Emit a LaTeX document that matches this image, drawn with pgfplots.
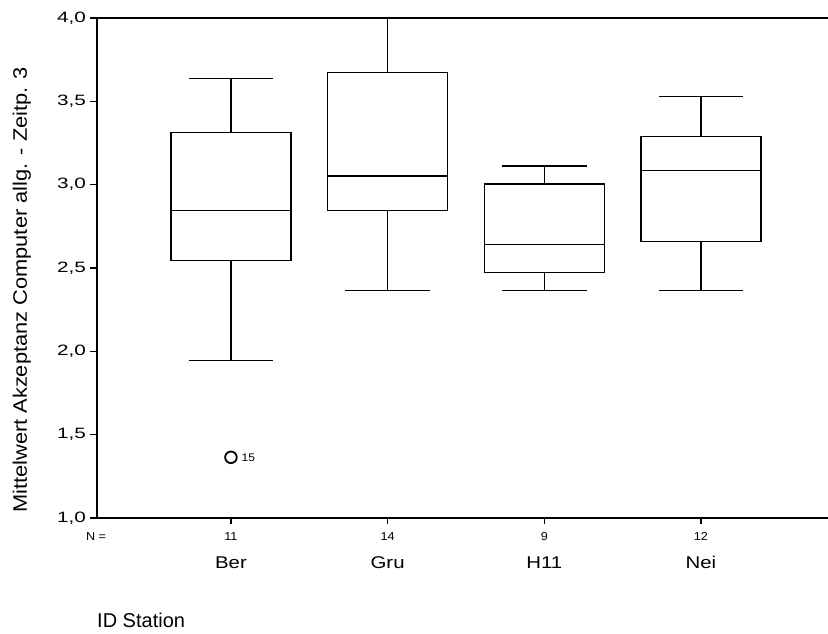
\documentclass[border=0pt]{standalone}
\usepackage{fontspec}
\setmainfont{Liberation Sans}
\newfontfamily\tickfont[FakeStretch=1.38]{Liberation Sans}
\newfontfamily\catfont[FakeStretch=1.2]{Liberation Sans}
\newfontfamily\labfont[FakeStretch=1.12]{Liberation Sans}
\newfontfamily\smallfont[FakeStretch=1.1]{Liberation Sans}
\usepackage{pgfplots}
\pgfplotsset{compat=1.18}
\usepgfplotslibrary{statistics}

\begin{document}
\begin{tikzpicture}
\path[use as bounding box] (0pt,0pt) rectangle (828pt,634pt);
\begin{axis}[
  at={(97pt,116pt)}, anchor=south west,
  width=731pt, height=500pt, scale only axis,
  xmin=0.145, xmax=4.811, ymin=1, ymax=4,
  axis lines*=left,
  axis line style={-, line width=1.9pt, line cap=rect},
  tick align=outside, major tick length=6.5pt,
  tick style={black, line width=1.3pt},
  ytick={1,1.5,2,2.5,3,3.5,4},
  yticklabel style={font=\fontsize{15}{17}\tickfont, xshift=-1pt,
    /pgf/number format/fixed, /pgf/number format/fixed zerofill,
    /pgf/number format/precision=1, /pgf/number format/use comma,
    /pgf/number format/assume math mode=true},
  xtick={1,2,3,4}, xticklabels={},
  clip=false,
  boxplot/draw direction=y,
  every boxplot/.style={black, line width=1.4pt},
]
% box plots per station
\addplot[boxplot prepared={draw position=1, lower whisker=1.944, lower quartile=2.546,
  median=2.844, upper quartile=3.314, upper whisker=3.638,
  box extend=0.766, whisker extend=0.539}] coordinates {};
\addplot[boxplot prepared={draw position=2, lower whisker=2.364, lower quartile=2.846,
  median=3.052, upper quartile=3.674, upper whisker=4.0,
  box extend=0.766, whisker extend=0.539}] coordinates {};
\addplot[boxplot prepared={draw position=3, lower whisker=2.364, lower quartile=2.474,
  median=2.640, upper quartile=3.004, upper whisker=3.112,
  box extend=0.766, whisker extend=0.539}] coordinates {};
\addplot[boxplot prepared={draw position=4, lower whisker=2.364, lower quartile=2.658,
  median=3.084, upper quartile=3.288, upper whisker=3.528,
  box extend=0.766, whisker extend=0.539}] coordinates {};
% outlier (case 15)
\addplot[only marks, mark=o, mark size=5.8pt, mark options={black, line width=1.8pt}]
  coordinates {(1,1.364)};
\node[anchor=west, inner sep=0pt, font=\fontsize{11}{13}\smallfont] at (axis cs:1,1.364) [xshift=10.5pt] {15};
% top frame line
\draw[line width=1.9pt, line cap=rect] (rel axis cs:0,1) -- (rel axis cs:1,1);
% group sizes
\node[anchor=base, inner sep=0pt, font=\fontsize{11.5}{13}\smallfont] at (axis cs:0.139,0.864) {N =};
\node[anchor=base, inner sep=0pt, font=\fontsize{11.5}{13}\smallfont] at (axis cs:1,0.864) {11};
\node[anchor=base, inner sep=0pt, font=\fontsize{11.5}{13}\smallfont] at (axis cs:2,0.864) {14};
\node[anchor=base, inner sep=0pt, font=\fontsize{11.5}{13}\smallfont] at (axis cs:3,0.864) {9};
\node[anchor=base, inner sep=0pt, font=\fontsize{11.5}{13}\smallfont] at (axis cs:4,0.864) {12};
% station names
\node[anchor=base, inner sep=0pt, font=\fontsize{17}{20}\catfont] at (axis cs:1,0.694) {Ber};
\node[anchor=base, inner sep=0pt, font=\fontsize{17}{20}\catfont] at (axis cs:2,0.694) {Gru};
\node[anchor=base, inner sep=0pt, font=\fontsize{17}{20}\catfont] at (axis cs:3,0.694) {H11};
\node[anchor=base, inner sep=0pt, font=\fontsize{17}{20}\catfont] at (axis cs:4,0.694) {Nei};
\end{axis}
\node[rotate=90, anchor=base, inner sep=0pt, font=\fontsize{19.5}{22}\labfont] at (27pt,344pt)
  {Mittelwert Akzeptanz Computer allg. - Zeitp. 3};
\node[anchor=base west, inner sep=0pt, font=\fontsize{20}{24}\selectfont] at (97pt,6.7pt) {ID Station};
\end{tikzpicture}
\end{document}
